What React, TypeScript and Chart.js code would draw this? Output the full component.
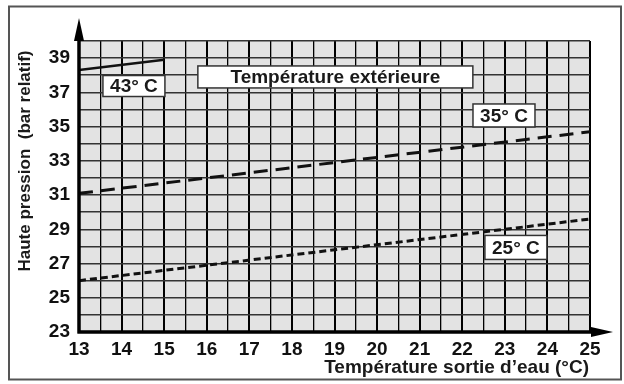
import React, { useEffect, useRef } from "react";
import { Chart, registerables } from "chart.js";

Chart.register(...registerables);

// ---- data ----
const lineX = [13, 25];
const line43X = [13, 15];
const line43Y = [38.3, 38.9];
const line35Y = [31.1, 34.7];
const line25Y = [26.0, 29.6];
const xTickLabels = [13, 14, 15, 16, 17, 18, 19, 20, 21, 22, 23, 24, 25];
const yTickLabels = [23, 25, 27, 29, 31, 33, 35, 37, 39];

const labelTexts = ["43° C", "Température extérieure", "35° C", "25° C"];
const labelX = [14.29, 19.02, 22.98, 23.26];
const labelY = [37.37, 37.9, 35.65, 27.94];
const labelW = [62, 275, 62, 62];
const labelH = [21, 22, 23, 24];

const FONT = "'Liberation Sans', Arial, Helvetica, sans-serif";

const decorPlugin = {
  id: "decor",
  beforeDraw(chart: any) {
    const { ctx, chartArea } = chart;
    ctx.save();
    ctx.fillStyle = "#ffffff";
    ctx.fillRect(0, 0, chart.width, chart.height);
    ctx.strokeStyle = "#555";
    ctx.lineWidth = 2;
    ctx.strokeRect(9, 6.5, 612, 373);
    ctx.fillStyle = "#e3e3e3";
    ctx.fillRect(chartArea.left, chartArea.top, chartArea.right - chartArea.left, chartArea.bottom - chartArea.top);
    ctx.restore();
  },
  afterDraw(chart: any) {
    const { ctx, chartArea, scales } = chart;
    const xs = scales.x;
    const ys = scales.y;
    ctx.save();
    // axes
    ctx.strokeStyle = "#000";
    ctx.fillStyle = "#000";
    ctx.lineWidth = 3.5;
    ctx.beginPath();
    ctx.moveTo(chartArea.left, chartArea.bottom + 1.5);
    ctx.lineTo(chartArea.left, 32);
    ctx.moveTo(chartArea.left - 1.5, chartArea.bottom);
    ctx.lineTo(600, chartArea.bottom);
    ctx.stroke();
    // arrow up
    ctx.beginPath();
    ctx.moveTo(chartArea.left, 18);
    ctx.lineTo(chartArea.left - 5, 41);
    ctx.lineTo(chartArea.left + 5, 41);
    ctx.closePath();
    ctx.fill();
    // arrow right
    ctx.beginPath();
    ctx.moveTo(613, chartArea.bottom);
    ctx.lineTo(591, chartArea.bottom - 5);
    ctx.lineTo(591, chartArea.bottom + 5);
    ctx.closePath();
    ctx.fill();

    // label boxes
    ctx.font = `bold 19px ${FONT}`;
    ctx.textAlign = "center";
    ctx.textBaseline = "middle";
    for (let i = 0; i < labelTexts.length; i++) {
      const cx = xs.getPixelForValue(labelX[i]);
      const cy = ys.getPixelForValue(labelY[i]);
      const w = labelW[i];
      const h = labelH[i];
      ctx.fillStyle = "#fff";
      ctx.fillRect(cx - w / 2, cy - h / 2, w, h);
      ctx.strokeStyle = "#333";
      ctx.lineWidth = 1.5;
      ctx.strokeRect(cx - w / 2, cy - h / 2, w, h);
      ctx.fillStyle = "#1a1a1a";
      ctx.fillText(labelTexts[i], cx, cy + 1);
    }

    // axis titles
    ctx.fillStyle = "#1a1a1a";
    ctx.font = `bold 19px ${FONT}`;
    ctx.textAlign = "right";
    ctx.textBaseline = "alphabetic";
    ctx.fillText("Température sortie d’eau (°C)", 589, 373);

    ctx.save();
    ctx.translate(25, 161);
    ctx.rotate(-Math.PI / 2);
    ctx.font = `bold 17px ${FONT}`;
    ctx.textAlign = "center";
    ctx.textBaseline = "middle";
    ctx.fillText("Haute pression  (bar relatif)", 0, 0);
    ctx.restore();

    ctx.restore();
  },
};

export default function App() {
  const ref = useRef<HTMLCanvasElement | null>(null);

  useEffect(() => {
    if (!ref.current) return;
    const mk = (xArr: number[], yArr: number[]) => xArr.map((x, i) => ({ x, y: yArr[i] }));
    const chart = new Chart(ref.current, {
      type: "scatter",
      data: {
        datasets: [
          {
            data: mk(line43X, line43Y),
            showLine: true,
            borderColor: "#111",
            borderWidth: 2.5,
            pointRadius: 0,
          },
          {
            data: mk(lineX, line35Y),
            showLine: true,
            borderColor: "#111",
            borderWidth: 3,
            borderDash: [14, 8],
            pointRadius: 0,
          },
          {
            data: mk(lineX, line25Y),
            showLine: true,
            borderColor: "#111",
            borderWidth: 3,
            borderDash: [7, 4],
            pointRadius: 0,
          },
        ] as any,
      },
      plugins: [decorPlugin],
      options: {
        animation: false,
        responsive: false,
        devicePixelRatio: 1,
        events: [],
        layout: { padding: { top: 41, right: 34, left: 0, bottom: 0 } },
        plugins: { legend: { display: false }, tooltip: { enabled: false } },
        scales: {
          x: {
            type: "linear",
            min: 13,
            max: 25,
            border: { display: false },
            grid: {
              color: "#000",
              drawTicks: false,
              lineWidth: (c: any) => (c.tick && Number.isInteger(c.tick.value) ? 2 : 1.3),
            },
            ticks: {
              stepSize: 0.5,
              autoSkip: false,
              maxRotation: 0,
              padding: 6,
              color: "#111",
              font: { family: FONT, size: 19, weight: "bold" },
              callback: (v: any) => (xTickLabels.includes(Number(v)) ? String(v) : ""),
            },
            afterFit: (s: any) => {
              s.height = 52;
            },
          },
          y: {
            type: "linear",
            min: 23,
            max: 40,
            border: { display: false },
            grid: { color: "#333", drawTicks: false, lineWidth: 1.5 },
            ticks: {
              stepSize: 1,
              autoSkip: false,
              padding: 9,
              color: "#111",
              font: { family: FONT, size: 19, weight: "bold" },
              callback: (v: any) => (yTickLabels.includes(Number(v)) ? String(v) : ""),
            },
            afterFit: (s: any) => {
              s.width = 79;
            },
          },
        },
      } as any,
    });
    return () => chart.destroy();
  }, []);

  return (
    <div style={{ position: "fixed", left: 0, top: 0, width: 624, height: 384, background: "#fff" }}>
      <canvas ref={ref} width={624} height={384} style={{ display: "block" }} />
    </div>
  );
}
